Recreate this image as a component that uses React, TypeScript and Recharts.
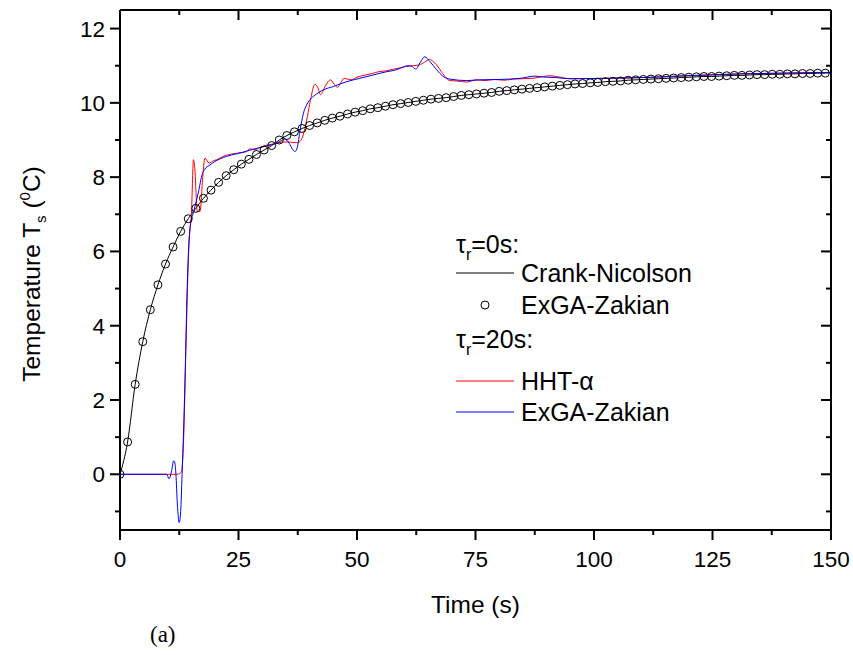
import React from 'react';
import { LineChart, Line, XAxis, YAxis, Legend } from 'recharts';

// tau_r = 0 s : time grid (s) shared by Crank-Nicolson line and ExGA-Zakian circles
const timeGrid = [0, 1.6, 3.2, 4.8, 6.4, 8, 9.6, 11.2, 12.8, 14.4, 16, 17.6, 19.2, 20.8, 22.4, 24, 25.6, 27.2, 28.8, 30.4, 32, 33.6, 35.2, 36.8, 38.4, 40, 41.6, 43.2, 44.8, 46.4, 48, 49.6, 51.2, 52.8, 54.4, 56, 57.6, 59.2, 60.8, 62.4, 64, 65.6, 67.2, 68.8, 70.4, 72, 73.6, 75.2, 76.8, 78.4, 80, 81.6, 83.2, 84.8, 86.4, 88, 89.6, 91.2, 92.8, 94.4, 96, 97.6, 99.2, 100.8, 102.4, 104, 105.6, 107.2, 108.8, 110.4, 112, 113.6, 115.2, 116.8, 118.4, 120, 121.6, 123.2, 124.8, 126.4, 128, 129.6, 131.2, 132.8, 134.4, 136, 137.6, 139.2, 140.8, 142.4, 144, 145.6, 147.2, 148.8, 150];

const crankNicolson = [0, 0.87, 2.42, 3.57, 4.43, 5.10, 5.66, 6.12, 6.54, 6.88, 7.16, 7.43, 7.65, 7.86, 8.04, 8.20, 8.35, 8.48, 8.61, 8.73, 8.85, 9.00, 9.12, 9.22, 9.31, 9.39, 9.46, 9.53, 9.59, 9.64, 9.70, 9.75, 9.79, 9.84, 9.87, 9.91, 9.95, 9.98, 10.01, 10.04, 10.07, 10.10, 10.12, 10.14, 10.17, 10.20, 10.22, 10.24, 10.26, 10.28, 10.31, 10.33, 10.35, 10.37, 10.39, 10.41, 10.43, 10.45, 10.47, 10.49, 10.51, 10.52, 10.54, 10.55, 10.57, 10.58, 10.59, 10.61, 10.62, 10.63, 10.64, 10.65, 10.66, 10.67, 10.68, 10.69, 10.70, 10.71, 10.71, 10.72, 10.73, 10.74, 10.74, 10.75, 10.76, 10.76, 10.77, 10.77, 10.78, 10.78, 10.79, 10.79, 10.80, 10.80, 10.81];

const zakianTau0 = [0, 0.87, 2.42, 3.57, 4.43, 5.10, 5.66, 6.12, 6.54, 6.88, 7.16, 7.43, 7.65, 7.86, 8.04, 8.20, 8.35, 8.48, 8.61, 8.73, 8.85, 9.00, 9.12, 9.22, 9.31, 9.39, 9.46, 9.53, 9.59, 9.64, 9.70, 9.75, 9.79, 9.84, 9.87, 9.91, 9.95, 9.98, 10.01, 10.04, 10.07, 10.10, 10.12, 10.14, 10.17, 10.20, 10.22, 10.24, 10.26, 10.28, 10.31, 10.33, 10.35, 10.37, 10.39, 10.41, 10.43, 10.45, 10.47, 10.49, 10.51, 10.52, 10.54, 10.55, 10.57, 10.58, 10.59, 10.61, 10.62, 10.63, 10.64, 10.65, 10.66, 10.67, 10.68, 10.69, 10.70, 10.71, 10.71, 10.72, 10.73, 10.74, 10.74, 10.75, 10.76, 10.76, 10.77, 10.77, 10.78, 10.78, 10.79, 10.79, 10.80, 10.80];

// tau_r = 20 s : HHT-alpha
const hhtTime = [0, 12.0, 12.6, 13.0, 13.4, 13.9, 14.5, 15.1, 15.5, 15.8, 16.3, 16.9, 17.4, 17.9, 18.8, 19.7, 20.4, 21.2, 22.2, 23.5, 25.0, 26.5, 27.4, 28.5, 29.5, 31.0, 32.5, 34.0, 35.5, 36.5, 37.5, 38.3, 39.0, 39.7, 40.3, 41.1, 41.7, 42.3, 43.3, 44.4, 45.2, 45.9, 46.6, 47.3, 48.7, 50.2, 51.8, 53.2, 54.6, 56.0, 57.5, 59.0, 60.3, 61.8, 63.1, 64.3, 65.3, 66.0, 66.8, 67.8, 68.9, 69.6, 71.0, 73.1, 75.2, 77.0, 79.0, 81.0, 83.0, 85.0, 87.0, 89.0, 90.7, 92.5, 94.9, 98.0, 102.0, 107.0, 112.5, 119.6, 125.0, 130.8, 140.0, 150.0];
const hhtTemp = [0, 0, 0.02, 0.1, 0.85, 3.36, 6.05, 7.12, 8.47, 8.2, 7.08, 7.08, 7.9, 8.51, 8.38, 8.44, 8.47, 8.52, 8.58, 8.62, 8.65, 8.68, 8.76, 8.74, 8.8, 8.86, 8.9, 8.94, 8.95, 8.93, 8.93, 9.02, 9.3, 9.75, 10.15, 10.5, 10.42, 10.22, 10.45, 10.62, 10.5, 10.42, 10.55, 10.66, 10.62, 10.7, 10.75, 10.79, 10.84, 10.86, 10.9, 10.94, 10.98, 11.0, 11.02, 11.1, 11.17, 11.12, 11.02, 10.84, 10.66, 10.6, 10.59, 10.56, 10.62, 10.6, 10.63, 10.61, 10.64, 10.65, 10.66, 10.7, 10.73, 10.7, 10.65, 10.65, 10.66, 10.67, 10.69, 10.73, 10.75, 10.78, 10.8, 10.82];

// tau_r = 20 s : ExGA-Zakian
const zakianTau20Time = [0, 9.85, 10.34, 10.9, 11.3, 11.5, 11.8, 12.1, 12.5, 12.8, 13.1, 13.7, 14.2, 14.8, 15.5, 16.5, 17.4, 17.8, 19.0, 20.0, 21.8, 22.5, 24.6, 25.3, 28.1, 30.9, 33.0, 34.0, 34.7, 35.7, 36.4, 36.9, 37.4, 38.0, 38.7, 39.4, 40.4, 41.5, 42.9, 45.0, 47.8, 50.6, 53.4, 56.3, 58.0, 59.1, 60.8, 61.5, 62.4, 63.4, 64.3, 65.4, 66.8, 68.2, 69.6, 73.1, 75.9, 80.0, 84.4, 87.5, 89.0, 92.0, 95.0, 102.0, 112.5, 119.6, 130.8, 140.0, 150.0];
const zakianTau20Temp = [0, 0, -0.12, 0.1, 0.36, 0.34, 0, -0.8, -1.3, -1.0, 0, 2.46, 5.15, 6.67, 7.05, 7.57, 8.1, 8.2, 8.33, 8.42, 8.53, 8.56, 8.63, 8.65, 8.75, 8.84, 8.91, 8.98, 9.03, 8.91, 8.75, 8.69, 8.8, 9.27, 9.72, 9.95, 10.13, 10.24, 10.35, 10.44, 10.57, 10.66, 10.75, 10.84, 10.88, 10.93, 11.0, 10.99, 10.91, 11.1, 11.24, 11.11, 10.89, 10.71, 10.64, 10.6, 10.62, 10.63, 10.66, 10.72, 10.7, 10.68, 10.65, 10.66, 10.69, 10.73, 10.78, 10.8, 10.82];

const xTicks = [0, 12.5, 25, 37.5, 50, 62.5, 75, 87.5, 100, 112.5, 125, 137.5, 150];
const yTicks = [-1, 0, 1, 2, 3, 4, 5, 6, 7, 8, 9, 10, 11, 12];

const SANS = 'Liberation Sans, Arial, Helvetica, sans-serif';

const tau0Data = timeGrid.map((t, i) => ({ t, cn: crankNicolson[i], z0: zakianTau0[i] }));
const hhtData = hhtTime.map((t, i) => ({ t, hht: hhtTemp[i] }));
const z20Data = zakianTau20Time.map((t, i) => ({ t, z20: zakianTau20Temp[i] }));

const isMajorX = (v: number) => v % 25 === 0;
const isMajorY = (v: number) => v % 2 === 0;

const BottomTick = (props: any) => {
  const { x, y, payload } = props;
  const major = isMajorX(payload.value);
  return (
    <g>
      <line x1={x} y1={y} x2={x} y2={y + (major ? 10 : 5)} stroke="#000" strokeWidth={2} />
      {major && (
        <text x={x} y={y + 37} textAnchor="middle" fontFamily={SANS} fontSize={22.5} fill="#000">
          {payload.value}
        </text>
      )}
    </g>
  );
};

const TopTick = (props: any) => {
  const { x, y, payload } = props;
  const major = isMajorX(payload.value);
  return <line x1={x} y1={y} x2={x} y2={y + (major ? 10 : 5)} stroke="#000" strokeWidth={2} />;
};

const LeftTick = (props: any) => {
  const { x, y, payload } = props;
  const major = isMajorY(payload.value);
  return (
    <g>
      <line x1={x} y1={y} x2={x - (major ? 10 : 5)} y2={y} stroke="#000" strokeWidth={2} />
      {major && (
        <text x={x - 15} y={y + 8} textAnchor="end" fontFamily={SANS} fontSize={22.5} fill="#000">
          {payload.value}
        </text>
      )}
    </g>
  );
};

const RightTick = (props: any) => {
  const { x, y, payload } = props;
  const major = isMajorY(payload.value);
  return <line x1={x} y1={y} x2={x - (major ? 10 : 5)} y2={y} stroke="#000" strokeWidth={2} />;
};

const YTitle = (props: any) => {
  const vb = props.viewBox;
  const cx = vb.x + 40;
  const cy = vb.y + vb.height / 2 + 4;
  return (
    <text
      x={cx}
      y={cy}
      transform={`rotate(-90 ${cx} ${cy})`}
      textAnchor="middle"
      fontFamily={SANS}
      fontSize={24.5}
      fill="#000"
    >
      Temperature T
      <tspan fontSize={15} dy={6}>s</tspan>
      <tspan dy={-6}> (</tspan>
      <tspan fontSize={15} dy={-10}>0</tspan>
      <tspan dy={10}>C)</tspan>
    </text>
  );
};

const XTitle = (props: any) => {
  const vb = props.viewBox;
  return (
    <g>
      <text x={vb.x + vb.width / 2} y={vb.y + 83} textAnchor="middle" fontFamily={SANS} fontSize={24.5} fill="#000">
        Time (s)
      </text>
      <text x={vb.x + 30} y={vb.y + 112} fontFamily="Liberation Serif, Times New Roman, serif" fontSize={23} fill="#000">
        (a)
      </text>
    </g>
  );
};

const LegendBox = () => (
  <svg width={300} height={210} style={{ display: 'block', overflow: 'visible' }}>
    <g fontFamily={SANS} fontSize={25} fill="#000">
      <text x={0} y={31}>
        τ<tspan fontSize={16} dy={7}>r</tspan>
        <tspan dy={-7}>=0s:</tspan>
      </text>
      <line x1={0} y1={51} x2={58} y2={51} stroke="#000" strokeWidth={1} />
      <text x={65} y={60}>Crank-Nicolson</text>
      <circle cx={29} cy={83} r={4} fill="none" stroke="#000" strokeWidth={1} />
      <text x={65} y={92}>ExGA-Zakian</text>
      <text x={0} y={126}>
        τ<tspan fontSize={16} dy={7}>r</tspan>
        <tspan dy={-7}>=20s:</tspan>
      </text>
      <line x1={0} y1={159} x2={58} y2={159} stroke="#ff0000" strokeWidth={1} />
      <text x={65} y={168}>HHT-α</text>
      <line x1={0} y1={190} x2={58} y2={190} stroke="#0000ff" strokeWidth={1} />
      <text x={65} y={199}>ExGA-Zakian</text>
    </g>
  </svg>
);

export default function App() {
  return (
    <div style={{ position: 'absolute', left: 0, top: 0, width: 853, height: 655, background: '#fff' }}>
      <LineChart
        width={853}
        height={655}
        data={tau0Data}
        margin={{ top: 10, right: 22, bottom: 0, left: 0 }}
      >
        <XAxis
          xAxisId="b"
          dataKey="t"
          type="number"
          domain={[0, 150]}
          allowDataOverflow
          ticks={xTicks}
          interval={0}
          height={125}
          tickSize={0}
          tickMargin={0}
          tickLine={false}
          tick={<BottomTick />}
          axisLine={{ stroke: '#000', strokeWidth: 2 }}
          label={<XTitle />}
        />
        <XAxis
          xAxisId="t"
          orientation="top"
          mirror
          dataKey="t"
          type="number"
          domain={[0, 150]}
          allowDataOverflow
          ticks={xTicks}
          interval={0}
          tickSize={0}
          tickMargin={0}
          tickLine={false}
          tick={<TopTick />}
          axisLine={{ stroke: '#000', strokeWidth: 2 }}
        />
        <YAxis
          yAxisId="l"
          type="number"
          domain={[-1.5, 12.5]}
          allowDataOverflow
          ticks={yTicks}
          interval={0}
          width={120}
          tickSize={0}
          tickMargin={0}
          tickLine={false}
          tick={<LeftTick />}
          axisLine={{ stroke: '#000', strokeWidth: 2 }}
          label={<YTitle />}
        />
        <YAxis
          yAxisId="r"
          orientation="right"
          mirror
          type="number"
          domain={[-1.5, 12.5]}
          allowDataOverflow
          ticks={yTicks}
          interval={0}
          tickSize={0}
          tickMargin={0}
          tickLine={false}
          tick={<RightTick />}
          axisLine={{ stroke: '#000', strokeWidth: 2 }}
        />
        <Legend
          layout="vertical"
          align="center"
          verticalAlign="middle"
          wrapperStyle={{ left: 456, top: 222, width: 300, height: 210 }}
          content={() => <LegendBox />}
        />
        <Line
          xAxisId="b"
          yAxisId="l"
          dataKey="cn"
          name="Crank-Nicolson"
          type="monotone"
          stroke="#000"
          strokeWidth={1}
          dot={false}
          isAnimationActive={false}
        />
        <Line
          xAxisId="b"
          yAxisId="l"
          dataKey="z0"
          name="ExGA-Zakian (τr=0s)"
          stroke="none"
          strokeWidth={0}
          dot={{ r: 4, fill: 'none', stroke: '#000', strokeWidth: 1 }}
          isAnimationActive={false}
        />
        <Line
          xAxisId="b"
          yAxisId="l"
          data={hhtData}
          dataKey="hht"
          name="HHT-α"
          type="monotone"
          stroke="#ff0000"
          strokeWidth={1}
          dot={false}
          isAnimationActive={false}
        />
        <Line
          xAxisId="b"
          yAxisId="l"
          data={z20Data}
          dataKey="z20"
          name="ExGA-Zakian (τr=20s)"
          type="monotone"
          stroke="#0000ff"
          strokeWidth={1}
          dot={false}
          isAnimationActive={false}
        />
      </LineChart>
    </div>
  );
}
